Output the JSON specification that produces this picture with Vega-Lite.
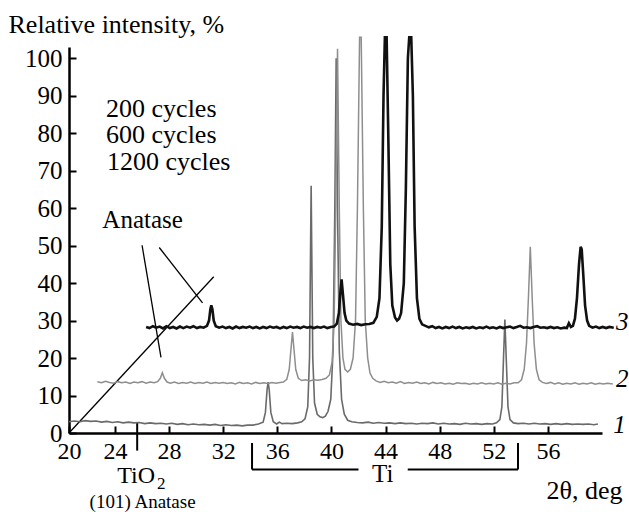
{
  "$schema": "https://vega.github.io/schema/vega-lite/v6.json",
  "width": 533,
  "height": 386,
  "autosize": {"type": "none"},
  "padding": {"left": 69, "top": 47, "right": 27, "bottom": 79},
  "background": "white",
  "config": {
    "view": {"stroke": null},
    "font": "Liberation Serif, serif",
    "text": {"font": "Liberation Serif, serif"},
    "axis": {
      "domainColor": "black",
      "domainWidth": 2.5,
      "tickColor": "black",
      "tickWidth": 2,
      "tickSize": -7,
      "grid": false,
      "labelFont": "Liberation Serif, serif",
      "labelFontSize": 25,
      "labelColor": "black",
      "labelFlush": false,
      "labelOverlap": false,
      "titleFont": "Liberation Serif, serif",
      "titleFontSize": 26,
      "titleFontWeight": "normal",
      "titleColor": "black"
    }
  },
  "datasets": {
    "c1": [
      {"x": 20.6, "y": 3.0}, {"x": 21.0, "y": 3.2}, {"x": 21.4, "y": 3.0}, {"x": 21.8, "y": 3.3},
      {"x": 22.2, "y": 3.1}, {"x": 22.6, "y": 3.2}, {"x": 23.0, "y": 2.9}, {"x": 23.4, "y": 3.1},
      {"x": 23.8, "y": 2.8}, {"x": 24.2, "y": 3.0}, {"x": 24.6, "y": 2.7}, {"x": 25.0, "y": 2.9},
      {"x": 25.4, "y": 2.7}, {"x": 25.8, "y": 2.8}, {"x": 26.2, "y": 2.5}, {"x": 26.6, "y": 2.7},
      {"x": 27.0, "y": 2.5}, {"x": 27.4, "y": 2.6}, {"x": 27.8, "y": 2.4}, {"x": 28.2, "y": 2.6},
      {"x": 28.6, "y": 2.3}, {"x": 29.0, "y": 2.5}, {"x": 29.4, "y": 2.2}, {"x": 29.8, "y": 2.4},
      {"x": 30.2, "y": 2.2}, {"x": 30.6, "y": 2.3}, {"x": 31.0, "y": 2.1}, {"x": 31.4, "y": 2.3},
      {"x": 31.8, "y": 2.0}, {"x": 32.2, "y": 2.2}, {"x": 32.6, "y": 2.0}, {"x": 33.0, "y": 2.1},
      {"x": 33.4, "y": 1.9}, {"x": 33.8, "y": 2.1}, {"x": 34.2, "y": 2.1}, {"x": 34.6, "y": 2.4},
      {"x": 34.95, "y": 2.9}, {"x": 35.12, "y": 5.5}, {"x": 35.24, "y": 11.5}, {"x": 35.32, "y": 13.6},
      {"x": 35.4, "y": 11.5}, {"x": 35.52, "y": 5.5}, {"x": 35.7, "y": 3.0}, {"x": 35.95, "y": 2.4},
      {"x": 36.15, "y": 2.9}, {"x": 36.35, "y": 2.5}, {"x": 36.7, "y": 2.6}, {"x": 37.1, "y": 2.5},
      {"x": 37.5, "y": 2.7}, {"x": 37.8, "y": 3.0}, {"x": 38.05, "y": 3.8}, {"x": 38.25, "y": 7},
      {"x": 38.38, "y": 20}, {"x": 38.5, "y": 66}, {"x": 38.62, "y": 20}, {"x": 38.75, "y": 8},
      {"x": 38.95, "y": 5.0}, {"x": 39.15, "y": 4.3}, {"x": 39.35, "y": 4.1}, {"x": 39.55, "y": 4.5},
      {"x": 39.75, "y": 5.8}, {"x": 39.95, "y": 9}, {"x": 40.12, "y": 22}, {"x": 40.25, "y": 60},
      {"x": 40.35, "y": 100}, {"x": 40.45, "y": 60}, {"x": 40.58, "y": 22}, {"x": 40.75, "y": 9},
      {"x": 40.95, "y": 5}, {"x": 41.2, "y": 3.4}, {"x": 41.5, "y": 3.0}, {"x": 41.9, "y": 2.8},
      {"x": 42.3, "y": 2.7}, {"x": 42.7, "y": 2.9}, {"x": 43.1, "y": 2.6}, {"x": 43.5, "y": 2.8},
      {"x": 43.9, "y": 2.6}, {"x": 44.3, "y": 2.7}, {"x": 44.7, "y": 2.5}, {"x": 45.1, "y": 2.7},
      {"x": 45.5, "y": 2.5}, {"x": 45.9, "y": 2.6}, {"x": 46.3, "y": 2.4}, {"x": 46.7, "y": 2.6},
      {"x": 47.1, "y": 2.5}, {"x": 47.5, "y": 2.7}, {"x": 47.9, "y": 2.4}, {"x": 48.3, "y": 2.6},
      {"x": 48.7, "y": 2.4}, {"x": 49.1, "y": 2.5}, {"x": 49.5, "y": 2.3}, {"x": 49.9, "y": 2.6},
      {"x": 50.3, "y": 2.4}, {"x": 50.7, "y": 2.5}, {"x": 51.1, "y": 2.3}, {"x": 51.5, "y": 2.5},
      {"x": 51.9, "y": 2.4}, {"x": 52.2, "y": 2.7}, {"x": 52.45, "y": 3.6}, {"x": 52.6, "y": 7},
      {"x": 52.72, "y": 20}, {"x": 52.82, "y": 30.3}, {"x": 52.92, "y": 20}, {"x": 53.05, "y": 7},
      {"x": 53.2, "y": 3.6}, {"x": 53.45, "y": 2.7}, {"x": 53.8, "y": 2.5}, {"x": 54.2, "y": 2.6},
      {"x": 54.6, "y": 2.4}, {"x": 55.0, "y": 2.6}, {"x": 55.4, "y": 2.4}, {"x": 55.8, "y": 2.5},
      {"x": 56.2, "y": 2.3}, {"x": 56.6, "y": 2.5}, {"x": 57.0, "y": 2.3}, {"x": 57.4, "y": 2.5},
      {"x": 57.8, "y": 2.3}, {"x": 58.2, "y": 2.4}, {"x": 58.6, "y": 2.3}, {"x": 59.0, "y": 2.4},
      {"x": 59.4, "y": 2.2}, {"x": 59.7, "y": 2.4}
    ],
    "c2": [
      {"x": 22.7, "y": 13.7}, {"x": 23.0, "y": 13.4}, {"x": 23.3, "y": 13.8}, {"x": 23.6, "y": 13.5},
      {"x": 23.9, "y": 13.3}, {"x": 24.2, "y": 13.7}, {"x": 24.5, "y": 13.4}, {"x": 24.8, "y": 13.6},
      {"x": 25.1, "y": 13.2}, {"x": 25.4, "y": 13.6}, {"x": 25.7, "y": 13.4}, {"x": 26.0, "y": 13.7},
      {"x": 26.3, "y": 13.3}, {"x": 26.6, "y": 13.6}, {"x": 26.9, "y": 13.4}, {"x": 27.15, "y": 13.7},
      {"x": 27.35, "y": 14.6}, {"x": 27.5, "y": 16.1}, {"x": 27.65, "y": 14.6}, {"x": 27.85, "y": 13.6},
      {"x": 28.1, "y": 13.3}, {"x": 28.4, "y": 13.6}, {"x": 28.7, "y": 13.2}, {"x": 29.0, "y": 13.5},
      {"x": 29.3, "y": 13.3}, {"x": 29.6, "y": 13.6}, {"x": 29.9, "y": 13.2}, {"x": 30.2, "y": 13.5},
      {"x": 30.5, "y": 13.3}, {"x": 30.8, "y": 13.6}, {"x": 31.1, "y": 13.2}, {"x": 31.4, "y": 13.5},
      {"x": 31.7, "y": 13.3}, {"x": 32.0, "y": 13.5}, {"x": 32.3, "y": 13.2}, {"x": 32.6, "y": 13.4},
      {"x": 32.9, "y": 13.1}, {"x": 33.2, "y": 13.5}, {"x": 33.5, "y": 13.2}, {"x": 33.8, "y": 13.4},
      {"x": 34.1, "y": 13.1}, {"x": 34.4, "y": 13.5}, {"x": 34.7, "y": 13.2}, {"x": 35.0, "y": 13.4},
      {"x": 35.3, "y": 13.2}, {"x": 35.6, "y": 13.5}, {"x": 35.9, "y": 13.3}, {"x": 36.2, "y": 13.5},
      {"x": 36.45, "y": 13.6}, {"x": 36.7, "y": 14.3}, {"x": 36.88, "y": 17}, {"x": 37.0, "y": 22},
      {"x": 37.12, "y": 26.9}, {"x": 37.24, "y": 22}, {"x": 37.36, "y": 17}, {"x": 37.55, "y": 14.6},
      {"x": 37.8, "y": 14.0}, {"x": 38.1, "y": 14.2}, {"x": 38.4, "y": 13.9}, {"x": 38.7, "y": 14.2},
      {"x": 39.0, "y": 14.1}, {"x": 39.3, "y": 14.3}, {"x": 39.6, "y": 14.6}, {"x": 39.85, "y": 15.5},
      {"x": 40.05, "y": 19}, {"x": 40.2, "y": 30}, {"x": 40.32, "y": 60}, {"x": 40.45, "y": 102.5},
      {"x": 40.58, "y": 60}, {"x": 40.7, "y": 30}, {"x": 40.85, "y": 20}, {"x": 41.0, "y": 17},
      {"x": 41.2, "y": 16.3}, {"x": 41.4, "y": 17}, {"x": 41.6, "y": 20}, {"x": 41.78, "y": 30},
      {"x": 41.92, "y": 60}, {"x": 42.08, "y": 105.6}, {"x": 42.2, "y": 105.6}, {"x": 42.36, "y": 60},
      {"x": 42.5, "y": 30}, {"x": 42.68, "y": 20}, {"x": 42.85, "y": 16}, {"x": 43.05, "y": 14.6},
      {"x": 43.3, "y": 13.9}, {"x": 43.6, "y": 13.5}, {"x": 43.9, "y": 13.8}, {"x": 44.2, "y": 13.4},
      {"x": 44.5, "y": 13.6}, {"x": 44.8, "y": 13.3}, {"x": 45.1, "y": 13.7}, {"x": 45.4, "y": 13.2},
      {"x": 45.7, "y": 13.5}, {"x": 46.0, "y": 13.3}, {"x": 46.3, "y": 13.6}, {"x": 46.6, "y": 13.2},
      {"x": 46.9, "y": 13.4}, {"x": 47.2, "y": 13.1}, {"x": 47.5, "y": 13.5}, {"x": 47.8, "y": 13.2},
      {"x": 48.1, "y": 13.4}, {"x": 48.4, "y": 13.1}, {"x": 48.7, "y": 13.3}, {"x": 49.0, "y": 13.0},
      {"x": 49.3, "y": 13.4}, {"x": 49.6, "y": 13.2}, {"x": 49.9, "y": 13.3}, {"x": 50.2, "y": 13.0},
      {"x": 50.5, "y": 13.3}, {"x": 50.8, "y": 13.1}, {"x": 51.1, "y": 13.4}, {"x": 51.4, "y": 13.1},
      {"x": 51.7, "y": 13.3}, {"x": 52.0, "y": 13.1}, {"x": 52.3, "y": 13.4}, {"x": 52.6, "y": 13.0},
      {"x": 52.9, "y": 13.3}, {"x": 53.2, "y": 13.1}, {"x": 53.5, "y": 13.4}, {"x": 53.8, "y": 13.4},
      {"x": 54.05, "y": 14.2}, {"x": 54.25, "y": 17}, {"x": 54.42, "y": 24}, {"x": 54.56, "y": 36},
      {"x": 54.7, "y": 49.7}, {"x": 54.84, "y": 36}, {"x": 54.98, "y": 24}, {"x": 55.15, "y": 17},
      {"x": 55.35, "y": 14.2}, {"x": 55.6, "y": 13.5}, {"x": 55.9, "y": 13.2}, {"x": 56.2, "y": 13.5},
      {"x": 56.5, "y": 13.1}, {"x": 56.8, "y": 13.4}, {"x": 57.1, "y": 13.0}, {"x": 57.4, "y": 13.3},
      {"x": 57.7, "y": 13.1}, {"x": 58.0, "y": 13.4}, {"x": 58.3, "y": 13.0}, {"x": 58.6, "y": 13.3},
      {"x": 58.9, "y": 13.1}, {"x": 59.2, "y": 13.4}, {"x": 59.5, "y": 13.0}, {"x": 59.8, "y": 13.3},
      {"x": 60.1, "y": 13.1}, {"x": 60.4, "y": 13.3}, {"x": 60.8, "y": 13.1}
    ],
    "c3": [
      {"x": 26.3, "y": 28.3}, {"x": 26.55, "y": 28.0}, {"x": 26.8, "y": 28.5}, {"x": 27.05, "y": 28.1},
      {"x": 27.3, "y": 28.4}, {"x": 27.55, "y": 27.9}, {"x": 27.8, "y": 28.5}, {"x": 28.05, "y": 28.0},
      {"x": 28.3, "y": 28.3}, {"x": 28.55, "y": 27.9}, {"x": 28.8, "y": 28.4}, {"x": 29.05, "y": 28.0},
      {"x": 29.3, "y": 28.4}, {"x": 29.55, "y": 28.1}, {"x": 29.8, "y": 28.5}, {"x": 30.05, "y": 28.0},
      {"x": 30.3, "y": 28.3}, {"x": 30.55, "y": 28.1}, {"x": 30.8, "y": 28.6}, {"x": 30.95, "y": 30},
      {"x": 31.05, "y": 33}, {"x": 31.12, "y": 34.1}, {"x": 31.2, "y": 33}, {"x": 31.3, "y": 30},
      {"x": 31.45, "y": 28.5}, {"x": 31.7, "y": 28.1}, {"x": 31.95, "y": 28.4}, {"x": 32.2, "y": 28.0},
      {"x": 32.45, "y": 28.3}, {"x": 32.7, "y": 27.9}, {"x": 32.95, "y": 28.4}, {"x": 33.2, "y": 28.0},
      {"x": 33.45, "y": 28.3}, {"x": 33.7, "y": 28.1}, {"x": 33.95, "y": 28.4}, {"x": 34.2, "y": 28.0},
      {"x": 34.45, "y": 28.3}, {"x": 34.7, "y": 27.9}, {"x": 34.95, "y": 28.3}, {"x": 35.2, "y": 28.0},
      {"x": 35.45, "y": 28.4}, {"x": 35.7, "y": 28.1}, {"x": 35.95, "y": 28.3}, {"x": 36.2, "y": 27.9},
      {"x": 36.45, "y": 28.3}, {"x": 36.7, "y": 28.0}, {"x": 36.95, "y": 28.4}, {"x": 37.2, "y": 28.1},
      {"x": 37.45, "y": 28.3}, {"x": 37.7, "y": 28.0}, {"x": 37.95, "y": 28.4}, {"x": 38.2, "y": 28.1},
      {"x": 38.45, "y": 28.3}, {"x": 38.7, "y": 28.0}, {"x": 38.95, "y": 28.3}, {"x": 39.2, "y": 28.1},
      {"x": 39.45, "y": 28.4}, {"x": 39.7, "y": 28.0}, {"x": 39.95, "y": 28.3}, {"x": 40.2, "y": 28.4},
      {"x": 40.4, "y": 29.2}, {"x": 40.55, "y": 32}, {"x": 40.67, "y": 38}, {"x": 40.75, "y": 41},
      {"x": 40.85, "y": 37}, {"x": 40.97, "y": 32}, {"x": 41.1, "y": 30}, {"x": 41.3, "y": 29.2},
      {"x": 41.6, "y": 28.9}, {"x": 41.9, "y": 29.1}, {"x": 42.2, "y": 28.8}, {"x": 42.5, "y": 29.0},
      {"x": 42.8, "y": 29.1}, {"x": 43.1, "y": 29.4}, {"x": 43.35, "y": 31}, {"x": 43.55, "y": 36},
      {"x": 43.72, "y": 55}, {"x": 43.85, "y": 90}, {"x": 43.95, "y": 105.6}, {"x": 44.08, "y": 105.6},
      {"x": 44.2, "y": 80}, {"x": 44.35, "y": 45}, {"x": 44.5, "y": 34}, {"x": 44.7, "y": 30.8},
      {"x": 44.85, "y": 30.0}, {"x": 45.0, "y": 30.5}, {"x": 45.15, "y": 32}, {"x": 45.35, "y": 40},
      {"x": 45.5, "y": 65}, {"x": 45.65, "y": 100}, {"x": 45.75, "y": 105.6}, {"x": 45.9, "y": 105.6},
      {"x": 46.02, "y": 90}, {"x": 46.15, "y": 55}, {"x": 46.32, "y": 36}, {"x": 46.5, "y": 30.5},
      {"x": 46.7, "y": 29.0}, {"x": 46.95, "y": 28.6}, {"x": 47.2, "y": 28.2}, {"x": 47.45, "y": 28.5},
      {"x": 47.7, "y": 28.0}, {"x": 47.95, "y": 28.3}, {"x": 48.2, "y": 27.9}, {"x": 48.45, "y": 28.3},
      {"x": 48.7, "y": 28.0}, {"x": 48.95, "y": 28.4}, {"x": 49.2, "y": 28.0}, {"x": 49.45, "y": 28.3},
      {"x": 49.7, "y": 27.9}, {"x": 49.95, "y": 28.2}, {"x": 50.2, "y": 28.0}, {"x": 50.45, "y": 28.3},
      {"x": 50.7, "y": 27.9}, {"x": 50.95, "y": 28.2}, {"x": 51.2, "y": 28.0}, {"x": 51.45, "y": 28.4},
      {"x": 51.7, "y": 28.0}, {"x": 51.95, "y": 28.2}, {"x": 52.2, "y": 27.9}, {"x": 52.45, "y": 28.3},
      {"x": 52.7, "y": 28.0}, {"x": 52.95, "y": 28.2}, {"x": 53.2, "y": 28.4}, {"x": 53.45, "y": 28.0},
      {"x": 53.7, "y": 28.3}, {"x": 53.95, "y": 28.6}, {"x": 54.2, "y": 28.1}, {"x": 54.45, "y": 28.2},
      {"x": 54.7, "y": 28.0}, {"x": 54.95, "y": 28.3}, {"x": 55.2, "y": 28.5}, {"x": 55.45, "y": 28.1},
      {"x": 55.7, "y": 28.2}, {"x": 55.95, "y": 28.0}, {"x": 56.2, "y": 28.3}, {"x": 56.45, "y": 28.0},
      {"x": 56.7, "y": 28.2}, {"x": 56.95, "y": 27.9}, {"x": 57.2, "y": 28.1}, {"x": 57.4, "y": 28.0},
      {"x": 57.55, "y": 29.3}, {"x": 57.7, "y": 28.3}, {"x": 57.85, "y": 28.6}, {"x": 58.0, "y": 30.5},
      {"x": 58.15, "y": 36}, {"x": 58.3, "y": 45}, {"x": 58.42, "y": 49.7}, {"x": 58.5, "y": 49.0},
      {"x": 58.62, "y": 42}, {"x": 58.75, "y": 34}, {"x": 58.9, "y": 30}, {"x": 59.05, "y": 28.6},
      {"x": 59.3, "y": 28.1}, {"x": 59.55, "y": 28.4}, {"x": 59.8, "y": 28.0}, {"x": 60.05, "y": 28.3},
      {"x": 60.3, "y": 28.0}, {"x": 60.55, "y": 28.3}, {"x": 60.87, "y": 28.1}
    ],
    "skew": [{"x": 20.6, "y": 0}, {"x": 31.3, "y": 41.7}],
    "pointers": [
      {"x": 26.0, "y": 50.1, "x2": 27.4, "y2": 20.2},
      {"x": 27.27, "y": 49.5, "x2": 30.47, "y2": 34.7}
    ],
    "brackets": [
      {"x": 25.64, "y": 2.75, "x2": 25.64, "y2": -4.7},
      {"x": 34.13, "y": -2.67, "x2": 34.13, "y2": -9.73},
      {"x": 34.13, "y": -9.73, "x2": 42.0, "y2": -9.73},
      {"x": 45.64, "y": -9.73, "x2": 53.79, "y2": -9.73},
      {"x": 53.79, "y": -9.73, "x2": 53.79, "y2": -2.67}
    ],
    "leftText": [
      {"t": "200 cycles", "x": 23.34, "y": 84.3},
      {"t": "600 cycles", "x": 23.34, "y": 77.4},
      {"t": "1200 cycles", "x": 23.4, "y": 70.1}
    ],
    "formula": [{"t": "TiO", "x": 24.16, "y": -13.33}],
    "centerText": [
      {"t": "Anatase", "x": 26.04, "y": 54.67},
      {"t": "Ti", "x": 43.79, "y": -13.2}
    ],
    "subText": [{"t": "2", "x": 27.1, "y": -14.93}],
    "smallText": [{"t": "(101) Anatase", "x": 26.04, "y": -20.0}],
    "curveText": [
      {"t": "3", "x": 61.5, "y": 27.5},
      {"t": "2", "x": 61.5, "y": 12.35},
      {"t": "1", "x": 61.3, "y": -0.1}
    ]
  },
  "encoding": {
    "x": {
      "field": "x",
      "type": "quantitative",
      "scale": {"domain": [20.6, 60], "nice": false, "zero": false},
      "axis": {
        "values": [20.6, 24, 28, 32, 36, 40, 44, 48, 52, 56],
        "labelExpr": "datum.value < 21 ? '20' : datum.label",
        "labelFontSize": 24,
        "labelPadding": 13,
        "title": "2θ, deg",
        "titleAlign": "right",
        "titleBaseline": "alphabetic",
        "titleX": 553,
        "titleY": 65
      }
    },
    "y": {
      "field": "y",
      "type": "quantitative",
      "scale": {"domain": [0, 103], "nice": false, "zero": false},
      "axis": {
        "values": [0, 10, 20, 30, 40, 50, 60, 70, 80, 90, 100],
        "labelPadding": 14,
        "title": "Relative intensity, %",
        "titleAngle": 0,
        "titleAlign": "left",
        "titleBaseline": "alphabetic",
        "titleX": -61,
        "titleY": -15
      }
    }
  },
  "layer": [
    {"data": {"name": "skew"}, "mark": {"type": "line", "color": "black", "strokeWidth": 1.3}, "encoding": {}},
    {"data": {"name": "pointers"}, "mark": {"type": "rule", "color": "black", "strokeWidth": 1.3},
     "encoding": {"x2": {"field": "x2"}, "y2": {"field": "y2"}}},
    {"data": {"name": "brackets"}, "mark": {"type": "rule", "color": "black", "strokeWidth": 2},
     "encoding": {"x2": {"field": "x2"}, "y2": {"field": "y2"}}},
    {"data": {"name": "c1"}, "mark": {"type": "line", "color": "#6a6a6a", "strokeWidth": 1.6}, "encoding": {}},
    {"data": {"name": "c2"}, "mark": {"type": "line", "color": "#8e8e8e", "strokeWidth": 1.5}, "encoding": {}},
    {"data": {"name": "c3"}, "mark": {"type": "line", "color": "#111111", "strokeWidth": 2.6}, "encoding": {}},
    {"data": {"name": "leftText"}, "mark": {"type": "text", "align": "left", "baseline": "alphabetic", "fontSize": 26, "color": "black"},
     "encoding": {"text": {"field": "t"}}},
    {"data": {"name": "formula"}, "mark": {"type": "text", "align": "left", "baseline": "alphabetic", "fontSize": 24, "color": "black"},
     "encoding": {"text": {"field": "t"}}},
    {"data": {"name": "centerText"}, "mark": {"type": "text", "align": "center", "baseline": "alphabetic", "fontSize": 25, "color": "black"},
     "encoding": {"text": {"field": "t"}}},
    {"data": {"name": "subText"}, "mark": {"type": "text", "align": "left", "baseline": "alphabetic", "fontSize": 17, "color": "black"},
     "encoding": {"text": {"field": "t"}}},
    {"data": {"name": "smallText"}, "mark": {"type": "text", "align": "center", "baseline": "alphabetic", "fontSize": 19, "color": "black"},
     "encoding": {"text": {"field": "t"}}},
    {"data": {"name": "curveText"}, "mark": {"type": "text", "align": "center", "baseline": "alphabetic", "fontSize": 25, "fontStyle": "italic", "color": "black"},
     "encoding": {"text": {"field": "t"}}}
  ]
}
